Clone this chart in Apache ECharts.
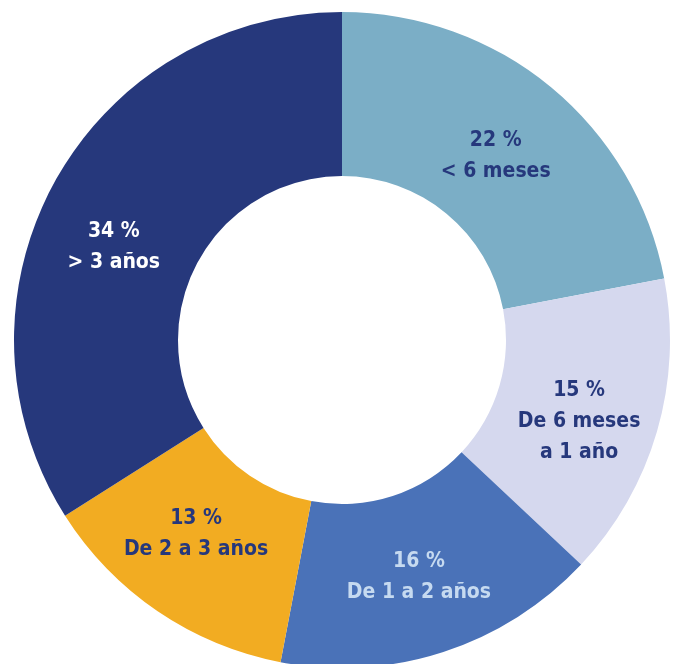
<!DOCTYPE html>
<html>
<head>
<meta charset="utf-8">
<script src="https://cdn.jsdelivr.net/npm/echarts@6/dist/echarts.min.js"></script>
<style>
  html, body { margin:0; padding:0; background:#fff; }
  #chart { width:674px; height:664px; }
</style>
</head>
<body>
<div id="chart"></div>
<script>
  // categories and values, clockwise from 12 o'clock
  var categories = ['< 6 meses', 'De 6 meses\na 1 año', 'De 1 a 2 años', 'De 2 a 3 años', '> 3 años'];
  var values = [22, 15, 16, 13, 34];
  var sliceColors = ['#7BAEC6', '#D5D8EE', '#4A72B8', '#F2AC22', '#26387C'];
  var labelColors = ['#26387C', '#26387C', '#C6DAF0', '#26387C', '#FFFFFF'];

  var myChart = echarts.init(document.getElementById('chart'));
  var data = [];
  values.forEach(function (v, i) {
    data.push({
      name: categories[i],
      value: v,
      itemStyle: { color: sliceColors[i] },
      label: { color: labelColors[i] }
    });
  });
  // nudge some labels, like the original
  data[0].label.offset = [-5, 8];
  data[1].label.offset = [-2, 12];
  data[4].label.offset = [-10, 27];
  data[3].label.offset = [-6, -12];

  var option = {
    animation: false,
    series: [{
      type: 'pie',
      center: [342, 340],
      radius: [164, 328],
      startAngle: 90,
      clockwise: true,
      avoidLabelOverlap: false,
      itemStyle: { borderWidth: 0 },
      label: {
        show: true,
        position: 'inside',
        fontFamily: '"Liberation Sans Narrow", "DejaVu Sans Condensed", sans-serif',
        fontWeight: 'bold',
        fontSize: 21,
        lineHeight: 31,
        align: 'center',
        formatter: function (p) {
          return p.value + ' %\n' + p.name;
        }
      },
      labelLine: { show: false },
      data: data
    }]
  };
  myChart.setOption(option, true);
</script>
</body>
</html>
